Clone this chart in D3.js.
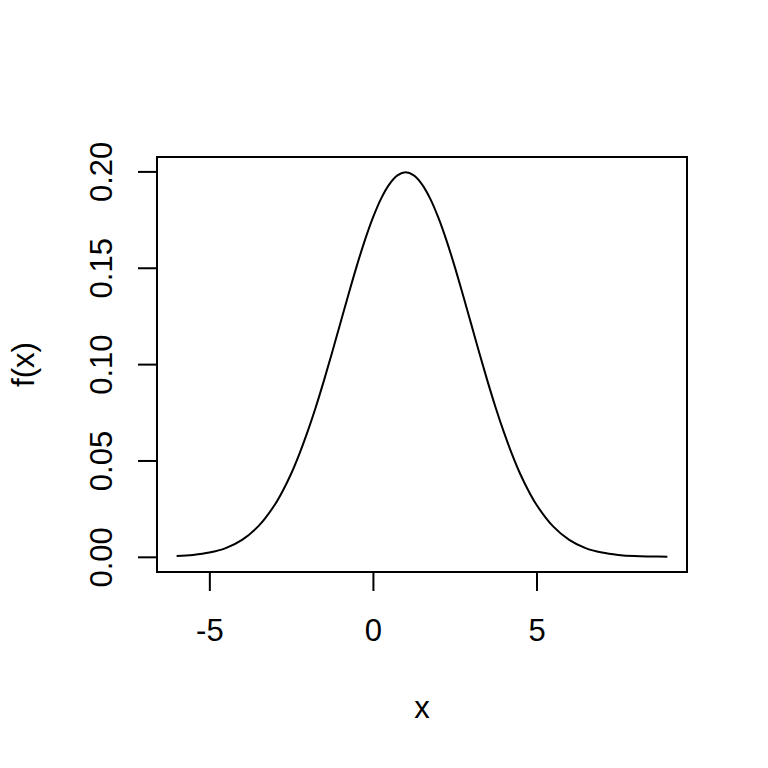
<!DOCTYPE html>
<html>
<head>
<meta charset="utf-8">
<script src="https://cdn.jsdelivr.net/npm/d3@7"></script>
<style>
  html, body { margin: 0; padding: 0; background: #fff; }
  svg { display: block; }
  text { font-family: "Liberation Sans", Arial, Helvetica, sans-serif; fill: #000; }
</style>
</head>
<body>
<svg id="chart" width="768" height="768"></svg>
<script>
// Values (density curve f(x))
const xValues = [-6, -5.5, -5, -4.5, -4, -3.5, -3, -2.75, -2.5, -2.25, -2, -1.75, -1.5, -1.25, -1, -0.75, -0.5, -0.25,
                 0, 0.25, 0.5, 0.75, 1, 1.25, 1.5, 1.75, 2, 2.25, 2.5, 2.75, 3, 3.25, 3.5, 3.75, 4, 4.25, 4.5, 4.75, 5,
                 5.5, 6, 6.5, 7, 7.5, 8, 8.5, 9];
const fValues = [0.0004, 0.0010, 0.0022, 0.0045, 0.0088, 0.0159, 0.0270, 0.0344, 0.0431, 0.0533, 0.0648, 0.0775, 0.0913, 0.1059, 0.1210, 0.1360, 0.1506, 0.1641,
                 0.1760, 0.1859, 0.1933, 0.1979, 0.1995, 0.1979, 0.1933, 0.1859, 0.1760, 0.1641, 0.1506, 0.1360, 0.1210, 0.1059, 0.0913, 0.0775, 0.0648, 0.0533, 0.0431, 0.0344, 0.0270,
                 0.0159, 0.0088, 0.0045, 0.0022, 0.0010, 0.0004, 0.0002, 0.0001];
const xTicks = [-5, 0, 5];
const yTicks = [0.00, 0.05, 0.10, 0.15, 0.20];
const yTickLabels = ["0.00", "0.05", "0.10", "0.15", "0.20"];
const xTitle = "x";
const yTitle = "f(x)";

const W = 768, H = 768;
const mLeft = 157, mRight = 687, mTop = 157, mBottom = 572;
const fontSize = 31;

const svg = d3.select("#chart");

const xMin = d3.min(xValues), xMax = d3.max(xValues);
const yMin = d3.min(fValues), yMax = d3.max(fValues);
const xPad = (xMax - xMin) * 0.04, yPad = (yMax - yMin) * 0.04;

const x = d3.scaleLinear().domain([xMin - xPad, xMax + xPad]).range([mLeft, mRight]);
const y = d3.scaleLinear().domain([yMin - yPad, yMax + yPad]).range([mBottom, mTop]);

// Curve
const data = xValues.map((v, i) => ({x: v, y: fValues[i]}));
svg.append("path")
  .datum(data)
  .attr("fill", "none")
  .attr("stroke", "#000")
  .attr("stroke-width", 2)
  .attr("d", d3.line().x(d => x(d.x)).y(d => y(d.y)).curve(d3.curveCatmullRom.alpha(0.5)));

// Box
svg.append("rect")
  .attr("x", mLeft).attr("y", mTop)
  .attr("width", mRight - mLeft).attr("height", mBottom - mTop)
  .attr("fill", "none").attr("stroke", "#000").attr("stroke-width", 2);

// X axis
const xAxis = d3.axisBottom(x).tickValues(xTicks).tickSize(19).tickPadding(0).tickFormat(d3.format("d"));
const gx = svg.append("g").attr("transform", `translate(0,${mBottom})`).call(xAxis);
gx.select(".domain").attr("d", `M${x(xTicks[0])},0H${x(xTicks[xTicks.length-1])}`).attr("stroke-width", 2);
gx.selectAll(".tick line").attr("stroke-width", 2);
gx.selectAll(".tick text")
  .attr("y", 69).attr("dy", null)
  .style("font-size", fontSize + "px")
  .style("font-family", "Liberation Sans, Arial, sans-serif")
  .text(d => d < 0 ? "-" + Math.abs(d) : d);

// Y axis
const yAxis = d3.axisLeft(y).tickValues(yTicks).tickSize(19).tickPadding(0)
  .tickFormat((d, i) => yTickLabels[i]);
const gy = svg.append("g").attr("transform", `translate(${mLeft},0)`).call(yAxis);
gy.select(".domain").attr("d", `M0,${y(yTicks[0])}V${y(yTicks[yTicks.length-1])}`).attr("stroke-width", 2);
gy.selectAll(".tick line").attr("stroke-width", 2);
gy.selectAll(".tick text")
  .attr("x", null).attr("dy", null)
  .attr("text-anchor", "middle")
  .attr("transform", "translate(-45,0) rotate(-90)")
  .style("font-size", fontSize + "px")
  .style("font-family", "Liberation Sans, Arial, sans-serif");

// Titles
svg.append("text")
  .attr("x", (mLeft + mRight) / 2).attr("y", 718)
  .attr("text-anchor", "middle")
  .style("font-size", fontSize + "px")
  .text(xTitle);

svg.append("text")
  .attr("transform", `translate(34,${(mTop + mBottom) / 2}) rotate(-90)`)
  .attr("text-anchor", "middle")
  .style("font-size", fontSize + "px")
  .text(yTitle);
</script>
</body>
</html>
